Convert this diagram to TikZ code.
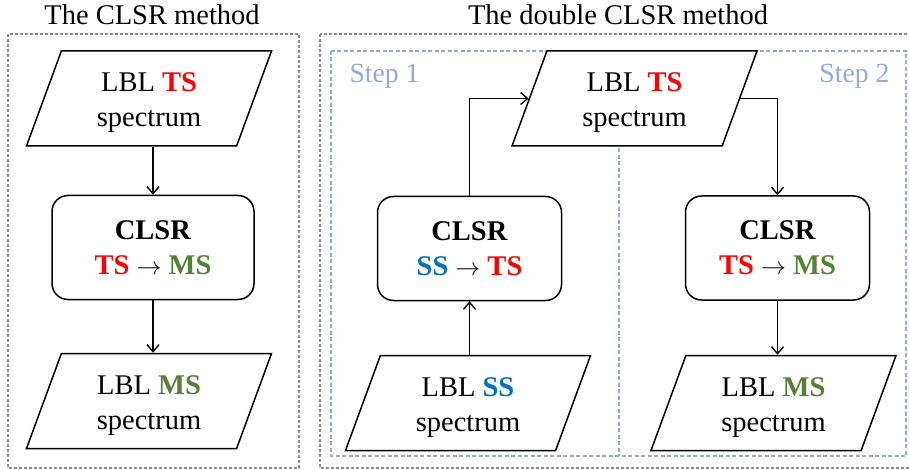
\documentclass[tikz,border=0pt]{standalone}
\usepackage{fontspec}
\setmainfont{Liberation Serif}
\usetikzlibrary{shapes.geometric,arrows.meta}
\definecolor{tsred}{RGB}{255,0,0}
\definecolor{ssblue}{RGB}{0,112,192}
\definecolor{msgreen}{RGB}{84,130,53}
\definecolor{stepblue}{RGB}{143,170,220}
\definecolor{framegray}{RGB}{140,140,140}
\newcommand{\cTS}{\textcolor{tsred}{\textbf{TS}}}
\newcommand{\cSS}{\textcolor{ssblue}{\textbf{SS}}}
\newcommand{\cMS}{\textcolor{msgreen}{\textbf{MS}}}
\newcommand{\rarr}{\(\rightarrow\)}
\begin{document}
\begin{tikzpicture}[x=1pt,y=-1pt,
  font=\fontsize{28.5}{35}\selectfont,
  io/.style={trapezium, trapezium left angle=63.2, trapezium right angle=116.8,
    trapezium stretches body, draw, line width=1.5pt, fill=white,
    minimum width=245pt, minimum height=95pt, inner sep=0pt, align=center,
    text height=63pt},
  proc/.style={rectangle, rounded corners=16pt, draw, line width=1.5pt, fill=white,
    minimum width=#1, minimum height=104pt, inner sep=0pt, align=center},
  proc/.default=184pt,
  arr/.style={line width=1.4pt, -{Straight Barb[length=7pt,width=12pt,line width=1.4pt]}},
  grayframe/.style={draw=framegray, line width=1.2pt, dash pattern=on 3pt off 2pt},
  blueframe/.style={draw=stepblue, line width=1.2pt, dash pattern=on 4pt off 2.5pt},
  steplabel/.style={text=stepblue, font=\fontsize{27.7}{33}\selectfont},
  title/.style={anchor=base}
]
\useasboundingbox (0,0) rectangle (909,470);

% frames
\draw[grayframe] (8,34) rectangle (299,468);
\draw[grayframe] (320,34) rectangle (912,468);
\draw[blueframe] (331,51) rectangle (906,456);
\draw[blueframe] (619,51) -- (619,456);

% titles
\node[title] (t1) at (152,25) {The CLSR method};
\node[title] (t2) at (618,25) {The double CLSR method};
\node[steplabel, anchor=base west] (s1) at (346,83) {Step 1};
\node[steplabel, anchor=base east] (s2) at (893,83) {Step 2};

% left panel
\node[io] (p1) at (149,98.5) {LBL \cTS\\spectrum};
\node[proc=202pt] (b1) at (153,247.5) {\textbf{CLSR}\\\cTS{} \rarr{} \cMS};
\node[io] (p2) at (149,401) {LBL \cMS\\spectrum};

% right panel
\node[io] (pts) at (634.5,98.5) {LBL \cTS\\spectrum};
\node[proc] (bss) at (469.5,248.5) {\textbf{CLSR}\\\cSS{} \rarr{} \cTS};
\node[proc] (bms) at (777.5,248) {\textbf{CLSR}\\\cTS{} \rarr{} \cMS};
\node[io] (pss) at (468,403) {LBL \cSS\\spectrum};
\node[io] (pms) at (773.5,403) {LBL \cMS\\spectrum};

% connectors
\draw[arr] (p1.south -| b1.north) -- (b1.north);
\draw[arr] (b1.south) -- (b1.south |- p2.north);
\draw[arr] (pss.north -| bss.south) -- (bss.south);
\draw[arr] (bss.north) |- (pts.west);
\draw[arr] (pts.east) -| (bms.north);
\draw[arr] (bms.south) -- (bms.south |- pms.north);
\end{tikzpicture}
\end{document}
